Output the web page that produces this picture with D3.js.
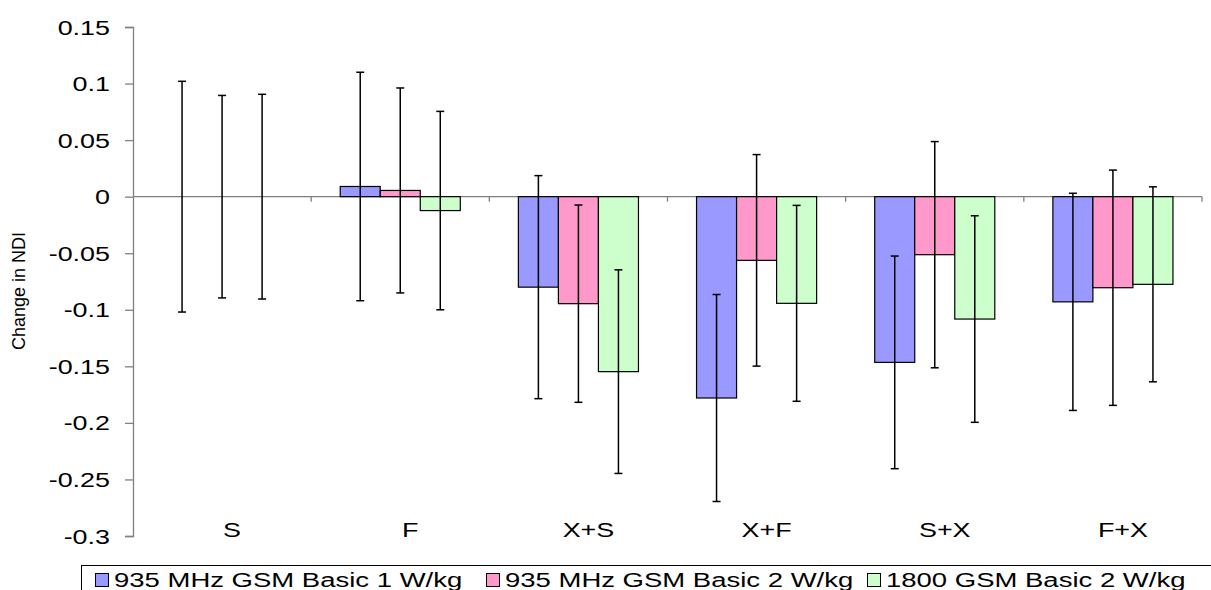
<!DOCTYPE html>
<html>
<head>
<meta charset="utf-8">
<script src="https://cdn.jsdelivr.net/npm/d3@7"></script>
<style>
  html, body { margin: 0; padding: 0; background: #fff; }
  svg { display: block; font-family: Arial, "Liberation Sans", sans-serif; }
</style>
</head>
<body>
<svg id="chart" width="1211" height="590"></svg>
<script>
// ---- data ----
const categories = ["S", "F", "X+S", "X+F", "S+X", "F+X"];
const seriesNames = ["935 MHz GSM Basic 1 W/kg", "935 MHz GSM Basic 2 W/kg", "1800 GSM Basic 2 W/kg"];
const values1 = [0, 0.009, -0.080, -0.178, -0.1465, -0.093];
const errors1 = [0.102, 0.101, 0.0986, 0.0915, 0.094, 0.096];
const values2 = [0, 0.0055, -0.0946, -0.0563, -0.0513, -0.0805];
const errors2 = [0.0895, 0.0906, 0.0872, 0.0935, 0.100, 0.104];
const values3 = [0, -0.0123, -0.1547, -0.0943, -0.1082, -0.0775];
const errors3 = [0.0905, 0.0877, 0.090, 0.0866, 0.0913, 0.0862];
const yTicks = [0.15, 0.1, 0.05, 0, -0.05, -0.1, -0.15, -0.2, -0.25, -0.3];
const colors = ["#9999FF", "#FF99CC", "#CCFFCC"];

const allValues = [values1, values2, values3];
const allErrors = [errors1, errors2, errors3];

const svg = d3.select("#chart");
const SX = 1.38;   // horizontal text stretch seen in the reference
const SXL = 1.41;  // legend text stretch

const plotLeft = 133, plotRight = 1202, plotTop = 27, plotBottom = 536;
const y = d3.scaleLinear().domain([-0.3, 0.15]).range([plotBottom, plotTop]);
const x = d3.scaleBand().domain(categories).range([plotLeft, plotRight]).paddingInner(0).paddingOuter(0);
const bw = x.bandwidth();
const x1 = d3.scaleBand().domain([0, 1, 2]).range([bw * 0.163, bw * 0.837]).padding(0);

// y axis
const yAxis = d3.axisLeft(y).tickValues(yTicks).tickSize(8).tickFormat(d => String(+d.toFixed(2)));
const gy = svg.append("g").attr("transform", `translate(${plotLeft},0)`).call(yAxis);
gy.select(".domain").attr("stroke", "#808080").attr("stroke-width", 1.3);
gy.selectAll(".tick line").attr("stroke", "#808080").attr("stroke-width", 1.3);
gy.selectAll(".tick text")
  .attr("x", null).attr("dy", "0.36em")
  .attr("transform", `translate(-23,0) scale(${SX},1)`)
  .attr("font-size", 19.5).attr("fill", "#000")
  .attr("font-family", "Arial, 'Liberation Sans', sans-serif");

// zero line with boundary ticks
const y0 = y(0);
svg.append("line").attr("x1", plotLeft).attr("x2", plotRight).attr("y1", y0).attr("y2", y0)
  .attr("stroke", "#808080").attr("stroke-width", 1.3);
categories.forEach(c => {
  const xb = x(c) + bw;
  svg.append("line").attr("x1", xb).attr("x2", xb).attr("y1", y0).attr("y2", y0 + 5)
    .attr("stroke", "#808080").attr("stroke-width", 1.3);
});

// bars
const rows = [];
categories.forEach((c, i) => {
  [0, 1, 2].forEach(s => rows.push({ c, s, v: allValues[s][i], e: allErrors[s][i] }));
});
svg.append("g").selectAll("rect").data(rows.filter(d => d.v !== 0)).join("rect")
  .attr("x", d => x(d.c) + x1(d.s))
  .attr("width", x1.bandwidth())
  .attr("y", d => y(Math.max(0, d.v)))
  .attr("height", d => Math.abs(y(d.v) - y(0)))
  .attr("fill", d => colors[d.s])
  .attr("stroke", "#000").attr("stroke-width", 1.2);

// error bars
const eg = svg.append("g").attr("stroke", "#000").attr("stroke-width", 1.5);
rows.forEach(d => {
  const cx = x(d.c) + x1(d.s) + x1.bandwidth() / 2;
  const yt = y(d.v + d.e), yb = y(d.v - d.e);
  eg.append("line").attr("x1", cx).attr("x2", cx).attr("y1", yt).attr("y2", yb);
  eg.append("line").attr("x1", cx - 4).attr("x2", cx + 4).attr("y1", yt).attr("y2", yt);
  eg.append("line").attr("x1", cx - 4).attr("x2", cx + 4).attr("y1", yb).attr("y2", yb);
});

// category labels
svg.append("g").selectAll("text").data(categories).join("text")
  .attr("transform", d => `translate(${x(d) + bw / 2 + 10},537) scale(${SX},1)`)
  .attr("text-anchor", "middle").attr("font-size", 19.5).attr("fill", "#000")
  .text(d => d);

// y axis title
svg.append("text")
  .attr("transform", "translate(25,291) rotate(-90)")
  .attr("text-anchor", "middle").attr("font-size", 18).attr("fill", "#000")
  .text("Change in NDI");

// legend
svg.append("rect").attr("x", 81.5).attr("y", 565.5).attr("width", 1140).attr("height", 40)
  .attr("fill", "none").attr("stroke", "#000").attr("stroke-width", 1);
const legendX = [95, 486, 867];
seriesNames.forEach((name, i) => {
  svg.append("rect").attr("x", legendX[i] + 0.5).attr("y", 573.5).attr("width", 13).attr("height", 13)
    .attr("fill", colors[i]).attr("stroke", "#000").attr("stroke-width", 1);
  svg.append("text")
    .attr("transform", `translate(${legendX[i] + 19},587) scale(${SXL},1)`)
    .attr("font-size", 19.5).attr("fill", "#000").text(name);
});
</script>
</body>
</html>
